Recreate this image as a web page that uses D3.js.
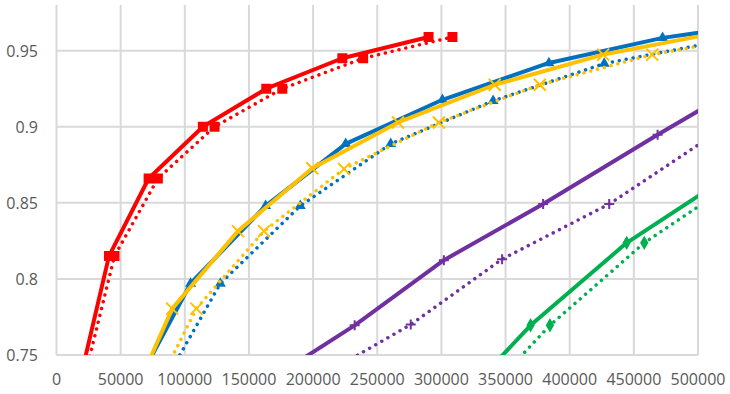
<!DOCTYPE html>
<html>
<head>
<meta charset="utf-8">
<script src="https://cdn.jsdelivr.net/npm/d3@7"></script>
<style>
  body { margin: 0; background: #fff; }
  text { font-family: "Open Sans", sans-serif; font-size: 16px; fill: #595959; }
</style>
</head>
<body>
<svg width="730" height="394"></svg>
<script>
// tick values
var xTicks = [0, 50000, 100000, 150000, 200000, 250000, 300000, 350000, 400000, 450000, 500000];
var yTicks = [0.75, 0.8, 0.85, 0.9, 0.95];

// series [x, y]
var redSolid    = [[9000,0.70],[40900,0.815],[71800,0.866],[114100,0.900],[163500,0.925],[222800,0.945],[290000,0.959]];
var redDotted   = [[11600,0.70],[45200,0.815],[79000,0.866],[123200,0.900],[176000,0.925],[239000,0.945],[308600,0.959]];
var blueSolid   = [[60000,0.727],[104500,0.797],[163000,0.848],[225400,0.8887],[300800,0.9177],[383800,0.9419],[472400,0.9584],[570000,0.970]];
var blueDotted  = [[80000,0.726],[127700,0.797],[190000,0.848],[260500,0.8887],[340300,0.9170],[426900,0.9415],[530000,0.9584]];
var goldSolid   = [[55000,0.7135],[90200,0.7805],[141400,0.8314],[199400,0.8727],[266200,0.9028],[341600,0.9276],[426100,0.9474],[520000,0.9625]];
var goldDotted  = [[70000,0.715],[109000,0.7805],[161700,0.8314],[224100,0.8723],[298000,0.9028],[376700,0.9276],[464300,0.9474],[560000,0.962]];
var purpleSolid = [[141000,0.72],[232400,0.7695],[301900,0.8123],[379300,0.8492],[468500,0.8947],[560000,0.94]];
var purpleDotted= [[173000,0.72],[276100,0.770],[347300,0.813],[430800,0.8492],[512000,0.8947]];
var greenSolid  = [[320000,0.725],[369500,0.7695],[444400,0.8237],[530000,0.871]];
var greenDotted = [[335000,0.725],[384600,0.7695],[458100,0.8237],[545000,0.8729]];

var svg = d3.select("svg");
var plotL = 56.5, plotR = 698, plotT = 5, plotB = 355;

var x = d3.scaleLinear().domain([0, 500000]).range([plotL, plotR]);
var y = d3.scaleLinear().domain([0.75, 0.98]).range([plotB, plotT]);

svg.append("defs").append("clipPath").attr("id", "plot")
  .append("rect").attr("x", plotL).attr("y", plotT)
  .attr("width", plotR - plotL).attr("height", plotB - plotT);

// grid
svg.append("g").selectAll("line").data(xTicks).enter().append("line")
  .attr("x1", d => x(d)).attr("x2", d => x(d))
  .attr("y1", plotT).attr("y2", plotB)
  .attr("stroke", "#d9d9d9").attr("stroke-width", 2);
svg.append("g").selectAll("line").data(yTicks).enter().append("line")
  .attr("x1", plotL).attr("x2", plotR)
  .attr("y1", d => y(d)).attr("y2", d => y(d))
  .attr("stroke", "#d9d9d9").attr("stroke-width", 2);

// labels
svg.append("g").selectAll("text").data(yTicks).enter().append("text")
  .attr("x", 38).attr("y", d => y(d)).attr("dy", "0.38em")
  .attr("text-anchor", "end")
  .text(d => d3.format("")(d));
svg.append("g").selectAll("text").data(xTicks).enter().append("text")
  .attr("x", d => x(d)).attr("y", 385)
  .attr("text-anchor", "middle")
  .text(d => d);

var line = d3.line().x(d => x(d[0])).y(d => y(d[1]));
var plot = svg.append("g").attr("clip-path", "url(#plot)");

function marker(g, pts, kind, color) {
  var sel = g.selectAll(null).data(pts).enter().append("path")
    .attr("transform", d => "translate(" + x(d[0]) + "," + y(d[1]) + ")");
  if (kind == "square") sel.attr("d", d3.symbol(d3.symbolSquare, 100)).attr("fill", color);
  if (kind == "triangle") sel.attr("d", d3.symbol(d3.symbolTriangle, 52)).attr("fill", color);
  if (kind == "diamond") sel.attr("d", d3.symbol(d3.symbolDiamond, 60)).attr("fill", color);
  if (kind == "x") sel.attr("d", "M-6,-6L6,6M-6,6L6,-6").attr("stroke", color).attr("stroke-width", 2).attr("fill", "none");
  if (kind == "plus") sel.attr("d", "M-5,0L5,0M0,-5L0,5").attr("stroke", color).attr("stroke-width", 2).attr("fill", "none");
}

function series(pts, color, dotted, kind) {
  var g = plot.append("g");
  g.append("path").datum(pts)
    .attr("d", line)
    .attr("fill", "none")
    .attr("stroke", color)
    .attr("stroke-width", dotted ? 3.5 : 4)
    .attr("stroke-linecap", "round")
    .attr("stroke-linejoin", "round")
    .attr("stroke-dasharray", dotted ? "0.01 7" : null);
  marker(g, pts, kind, color);
}

series(greenDotted, "#00b050", true, "diamond");
series(greenSolid, "#00b050", false, "diamond");
series(purpleDotted, "#7030a0", true, "plus");
series(purpleSolid, "#7030a0", false, "plus");
series(blueDotted, "#0070c0", true, "triangle");
series(goldDotted, "#ffc000", true, "x");
series(blueSolid, "#0070c0", false, "triangle");
series(goldSolid, "#ffc000", false, "x");
series(redDotted, "#ff0000", true, "square");
series(redSolid, "#ff0000", false, "square");
</script>
</body>
</html>
